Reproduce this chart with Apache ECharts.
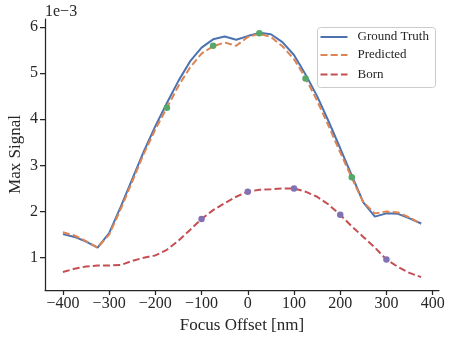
<!DOCTYPE html>
<html>
<head>
<meta charset="utf-8">
<script src="https://cdn.jsdelivr.net/npm/echarts@6/dist/echarts.min.js"></script>
<style>
  html, body { margin: 0; padding: 0; background: #fff; }
  #chart { width: 453px; height: 339px; }
</style>
</head>
<body>
<div id="chart"></div>
<script>
// focus offsets (nm), values in units of 1e-3
const offsets = [-400, -375, -350, -325, -300, -275, -250, -225, -200, -175, -150, -125, -100, -75, -50, -25,
  0, 25, 50, 75, 100, 125, 150, 175, 200, 225, 250, 275, 300, 325, 350, 375];
const groundTruth = [1.51, 1.45, 1.35, 1.22, 1.53, 2.1, 2.7, 3.3, 3.85, 4.35, 4.83, 5.25, 5.55, 5.73, 5.79, 5.72,
  5.80, 5.87, 5.84, 5.67, 5.39, 4.97, 4.5, 3.95, 3.37, 2.78, 2.2, 1.89, 1.96, 1.95, 1.85, 1.74];
const predicted = [1.55, 1.48, 1.36, 1.22, 1.5, 2.05, 2.65, 3.25, 3.78, 4.25, 4.72, 5.12, 5.42, 5.58, 5.66, 5.59,
  5.78, 5.85, 5.78, 5.58, 5.3, 4.89, 4.4, 3.85, 3.28, 2.73, 2.2, 1.96, 2.0, 1.98, 1.87, 1.73];
const born = [0.69, 0.76, 0.81, 0.83, 0.83, 0.84, 0.93, 1.0, 1.05, 1.17, 1.37, 1.6, 1.84, 2.03, 2.18, 2.32,
  2.43, 2.47, 2.48, 2.5, 2.5, 2.43, 2.32, 2.15, 1.93, 1.68, 1.45, 1.22, 0.96, 0.8, 0.67, 0.58];

const greenX = [-175, -75, 25, 125, 225];
const greenY = [4.25, 5.59, 5.86, 4.88, 2.74];
const purpleX = [-100, 0, 100, 200, 300];
const purpleY = [1.84, 2.43, 2.5, 1.93, 0.96];

const xTicks = [-400, -300, -200, -100, 0, 100, 200, 300, 400];
const yTicks = [1, 2, 3, 4, 5, 6];

const FONT = '"Liberation Serif", "DejaVu Serif", serif';
const TXT = '#262626';
const C = { blue: '#4C72B0', orange: '#DD8452', green: '#55A868', red: '#C44E52', purple: '#8172B3' };

const zip = (xs, ys) => xs.map((x, i) => [x, ys[i]]);
const fmt = v => String(v).replace('-', '\u2212');

const chart = echarts.init(document.getElementById('chart'), null, { renderer: 'canvas' });

const axisCommon = {
  axisLine: { show: true, onZero: false, lineStyle: { color: TXT, width: 1.25 } },
  axisTick: { show: true, length: 5, lineStyle: { color: TXT, width: 1.25 } },
  splitLine: { show: false },
  nameMoveOverlap: false,
  nameTextStyle: { color: TXT, fontFamily: FONT, fontSize: 17 }
};

chart.setOption({
  animation: false,
  textStyle: { fontFamily: FONT },
  grid: { left: 45, right: 14, top: 19, bottom: 49, outerBoundsMode: 'none', containLabel: false },
  xAxis: Object.assign({}, axisCommon, {
    type: 'value',
    min: -438.75,
    max: 413.75,
    name: 'Focus Offset [nm]',
    nameLocation: 'middle',
    nameGap: 27,
    axisTick: Object.assign({}, axisCommon.axisTick, { customValues: xTicks }),
    axisLabel: { customValues: xTicks, color: TXT, fontFamily: FONT, fontSize: 16, margin: 6, formatter: fmt }
  }),
  yAxis: Object.assign({}, axisCommon, {
    type: 'value',
    min: 0.3,
    max: 6.17,
    name: 'Max Signal',
    nameLocation: 'middle',
    nameGap: 21,
    axisTick: Object.assign({}, axisCommon.axisTick, { customValues: yTicks }),
    axisLabel: { customValues: yTicks, color: TXT, fontFamily: FONT, fontSize: 16, margin: 7, formatter: fmt }
  }),
  series: [
    {
      name: 'Born', type: 'line', data: zip(offsets, born), symbol: 'none', z: 2,
      lineStyle: { color: C.red, width: 2, type: [7, 3.2] }
    },
    {
      name: 'Ground Truth', type: 'line', data: zip(offsets, groundTruth), symbol: 'none', z: 3,
      lineStyle: { color: C.blue, width: 2 }
    },
    {
      name: 'Predicted', type: 'line', data: zip(offsets, predicted), symbol: 'none', z: 4,
      lineStyle: { color: C.orange, width: 2, type: [7, 3.2] }
    },
    {
      type: 'scatter', data: zip(greenX, greenY), symbolSize: 6.5, z: 5,
      itemStyle: { color: C.green, opacity: 1 }
    },
    {
      type: 'scatter', data: zip(purpleX, purpleY), symbolSize: 6.5, z: 5,
      itemStyle: { color: C.purple, opacity: 1 }
    }
  ],
  graphic: [
    { type: 'text', left: 45, top: 4, style: { text: '1e\u22123', fill: TXT, font: '16px ' + FONT } },
    {
      type: 'group', left: 317, top: 27,
      children: [
        { type: 'rect', shape: { x: 0, y: 0, width: 118, height: 60, r: 3 },
          style: { fill: 'rgba(255,255,255,0.8)', stroke: '#cccccc', lineWidth: 1 } },
        { type: 'line', shape: { x1: 3, y1: 9.5, x2: 30, y2: 9.5 }, style: { stroke: C.blue, lineWidth: 2 } },
        { type: 'line', shape: { x1: 3, y1: 27.5, x2: 30, y2: 27.5 }, style: { stroke: C.orange, lineWidth: 2, lineDash: [7, 3.2] } },
        { type: 'line', shape: { x1: 3, y1: 47, x2: 30, y2: 47 }, style: { stroke: C.red, lineWidth: 2, lineDash: [7, 3.2] } },
        { type: 'text', x: 40, y: 9.5, style: { text: 'Ground Truth', fill: TXT, font: '13px ' + FONT, verticalAlign: 'middle' } },
        { type: 'text', x: 40, y: 27.5, style: { text: 'Predicted', fill: TXT, font: '13px ' + FONT, verticalAlign: 'middle' } },
        { type: 'text', x: 40, y: 47, style: { text: 'Born', fill: TXT, font: '13px ' + FONT, verticalAlign: 'middle' } }
      ]
    }
  ]
});
</script>
</body>
</html>
